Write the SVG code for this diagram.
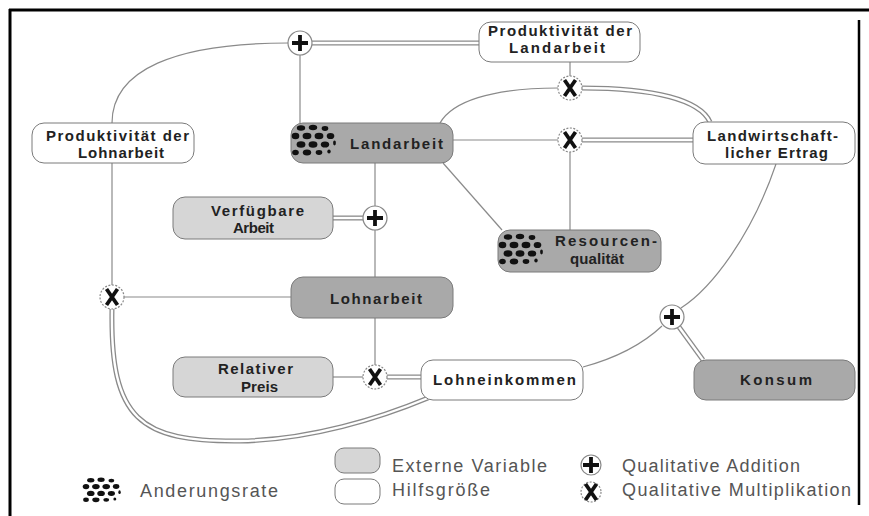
<svg xmlns="http://www.w3.org/2000/svg" xmlns:xlink="http://www.w3.org/1999/xlink" width="869" height="516" viewBox="0 0 869 516">
<style>
.box{stroke:#7a7a7a;stroke-width:1}
.ext{fill:#a9a9a9}
.inp{fill:#d6d6d6}
.aux{fill:#ffffff}
.lbl{font-family:"Liberation Sans",Arial,sans-serif;font-weight:bold;font-size:15px;fill:#222}
.leg{font-family:"Liberation Sans",Arial,sans-serif;font-size:18px;fill:#555}
.conn{fill:none;stroke:#8a8a8a;stroke-width:1.2}
.dblo{fill:none;stroke:#8a8a8a;stroke-width:5}
.dbli{fill:none;stroke:#ffffff;stroke-width:2.4}
.op{fill:#fff;stroke:#888;stroke-width:1.2}
.opx{fill:#fff;stroke:#888;stroke-width:1.2;stroke-dasharray:2 1.5}
.sym{stroke:#111;stroke-width:3.8;stroke-linecap:butt;fill:none}
.frame{stroke:#000;fill:none}
</style>
<defs>
<g id="dots" fill="#111">
<ellipse cx="9" cy="4" rx="4.2" ry="2.8"/><ellipse cx="21" cy="3.5" rx="4.2" ry="2.8"/><ellipse cx="33" cy="4.5" rx="3.3" ry="2.4"/>
<ellipse cx="3.5" cy="12" rx="3.8" ry="3.3"/><ellipse cx="15" cy="12" rx="4.4" ry="3.3"/><ellipse cx="27" cy="12" rx="4.4" ry="3.3"/><ellipse cx="38.5" cy="12" rx="3.8" ry="3.1"/>
<ellipse cx="9" cy="20.5" rx="4.4" ry="3.3"/><ellipse cx="21" cy="20.5" rx="4.4" ry="3.3"/><ellipse cx="33" cy="20.5" rx="4.2" ry="3.1"/><ellipse cx="42.5" cy="19" rx="1.4" ry="2.4"/>
<ellipse cx="3.5" cy="28.5" rx="3.3" ry="2.8"/><ellipse cx="15" cy="28.5" rx="4.2" ry="3"/><ellipse cx="27" cy="28.5" rx="3.3" ry="2.4"/><ellipse cx="37" cy="27.5" rx="1.7" ry="1.9"/>
</g>
<g id="plus"><path class="sym" d="M-8,0 H8 M0,-8 V8"/></g>
<g id="times"><path class="sym" d="M-5.5,-8 L5.5,8 M5.5,-8 L-5.5,8"/></g>
</defs>
<rect width="869" height="516" fill="#fff"/>
<g id="frame">
<path class="frame" stroke-width="3" d="M9,10 H869"/>
<path class="frame" stroke-width="3" d="M10,9 V516"/>
<path class="frame" stroke-width="2.5" d="M859,20 V505"/>
</g>
<g id="connectors">
<path class="conn" d="M288,43 C 175,43 112,70 112,123"/>
<path class="conn" d="M300,55 V123"/>
<path class="conn" d="M570,62 V76"/>
<path class="conn" d="M558,88 C 490,88 452,102 440,123"/>
<path class="conn" d="M453,140 H558"/>
<path class="conn" d="M570,152 V230"/>
<path class="conn" d="M443,163 L502,230"/>
<path class="conn" d="M375,163 V277"/>
<path class="conn" d="M375,318 V365"/>
<path class="conn" d="M124,297 H291"/>
<path class="conn" d="M112,163 V285"/>
<path class="conn" d="M333,377 H363"/>
<path class="conn" d="M583,367 C 620,357 645,342 662,326"/>
<path class="conn" d="M681,308 C 712,288 752,235 776,164"/>
<path class="dblo" d="M312,43 H479"/><path class="dbli" d="M312,43 H479"/>
<path class="dblo" d="M582,88 C 655,88 700,100 710,122"/><path class="dbli" d="M582,88 C 655,88 700,100 710,122"/>
<path class="dblo" d="M582,140 H693"/><path class="dbli" d="M582,140 H693"/>
<path class="dblo" d="M333,218 H363"/><path class="dbli" d="M333,218 H363"/>
<path class="dblo" d="M112,309 C 110,420 140,442 240,441 C 310,440 380,418 428,398"/><path class="dbli" d="M112,309 C 110,420 140,442 240,441 C 310,440 380,418 428,398"/>
<path class="dblo" d="M387,377 H421"/><path class="dbli" d="M387,377 H421"/>
<path class="dblo" d="M703,360 L679,327"/><path class="dbli" d="M703,360 L679,327"/>
</g>
<g id="n-prod-land">
<rect class="box aux" x="479" y="22" width="161" height="40" rx="12"/>
<text class="lbl" x="488" y="36" textLength="144" lengthAdjust="spacing">Produktivität der</text>
<text class="lbl" x="509" y="53" textLength="96" lengthAdjust="spacing">Landarbeit</text>
</g>
<g id="n-prod-lohn">
<rect class="box aux" x="32" y="123" width="162" height="40" rx="12"/>
<text class="lbl" x="46" y="141" textLength="143" lengthAdjust="spacing">Produktivität der</text>
<text class="lbl" x="78" y="158" textLength="86" lengthAdjust="spacing">Lohnarbeit</text>
</g>
<g id="n-landarbeit">
<rect class="box ext" x="291" y="123" width="162" height="40" rx="12"/>
<use xlink:href="#dots" href="#dots" x="292" y="124"/>
<text class="lbl" x="350" y="149" textLength="93" lengthAdjust="spacing">Landarbeit</text>
</g>
<g id="n-ertrag">
<rect class="box aux" x="693" y="122" width="162" height="42" rx="12"/>
<text class="lbl" x="707" y="141" textLength="131" lengthAdjust="spacing">Landwirtschaft-</text>
<text class="lbl" x="725" y="158" textLength="103" lengthAdjust="spacing">licher Ertrag</text>
</g>
<g id="n-verfuegbar">
<rect class="box inp" x="173" y="197" width="160" height="42" rx="12"/>
<text class="lbl" x="211" y="216" textLength="93" lengthAdjust="spacing">Verfügbare</text>
<text class="lbl" x="233" y="233" textLength="41" lengthAdjust="spacing">Arbeit</text>
</g>
<g id="n-resourcen">
<rect class="box ext" x="498" y="230" width="163" height="42" rx="12"/>
<use xlink:href="#dots" href="#dots" x="499" y="233"/>
<text class="lbl" x="555" y="246" textLength="102" lengthAdjust="spacing">Resourcen-</text>
<text class="lbl" x="570" y="264" textLength="54" lengthAdjust="spacing">qualität</text>
</g>
<g id="n-lohnarbeit">
<rect class="box ext" x="291" y="277" width="162" height="41" rx="12"/>
<text class="lbl" x="330" y="304" textLength="92" lengthAdjust="spacing">Lohnarbeit</text>
</g>
<g id="n-relpreis">
<rect class="box inp" x="173" y="357" width="160" height="40" rx="12"/>
<text class="lbl" x="218" y="374" textLength="75" lengthAdjust="spacing">Relativer</text>
<text class="lbl" x="241" y="392" textLength="37" lengthAdjust="spacing">Preis</text>
</g>
<g id="n-lohneinkommen">
<rect class="box aux" x="421" y="360" width="162" height="40" rx="12"/>
<text class="lbl" x="433" y="385" textLength="143" lengthAdjust="spacing">Lohneinkommen</text>
</g>
<g id="n-konsum">
<rect class="box ext" x="694" y="360" width="161" height="40" rx="12"/>
<text class="lbl" x="740" y="385" textLength="72" lengthAdjust="spacing">Konsum</text>
</g>
<g id="op-plus-top"><circle class="op" cx="300" cy="43" r="12"/><use xlink:href="#plus" href="#plus" x="300" y="43"/></g>
<g id="op-x-top"><circle class="opx" cx="570" cy="88" r="12"/><use xlink:href="#times" href="#times" x="570" y="88"/></g>
<g id="op-x-mid"><circle class="opx" cx="570" cy="140" r="12"/><use xlink:href="#times" href="#times" x="570" y="140"/></g>
<g id="op-plus-arbeit"><circle class="op" cx="375" cy="218" r="12"/><use xlink:href="#plus" href="#plus" x="375" y="218"/></g>
<g id="op-x-left"><circle class="opx" cx="112" cy="297" r="12"/><use xlink:href="#times" href="#times" x="112" y="297"/></g>
<g id="op-x-preis"><circle class="opx" cx="375" cy="377" r="12"/><use xlink:href="#times" href="#times" x="375" y="377"/></g>
<g id="op-plus-right"><circle class="op" cx="672" cy="317" r="12"/><use xlink:href="#plus" href="#plus" x="672" y="317"/></g>
<g id="legend">
<use xlink:href="#dots" href="#dots" transform="translate(83,477) scale(0.86,0.8)"/>
<text class="leg" x="140" y="497" textLength="138" lengthAdjust="spacing">Anderungsrate</text>
<rect class="box inp" x="335" y="448" width="45" height="25" rx="9"/>
<rect class="box aux" x="335" y="479" width="45" height="25" rx="9"/>
<text class="leg" x="392" y="472" textLength="155" lengthAdjust="spacing">Externe Variable</text>
<text class="leg" x="392" y="496" textLength="98" lengthAdjust="spacing">Hilfsgröße</text>
<circle class="op" cx="591" cy="465" r="10"/><use xlink:href="#plus" href="#plus" x="591" y="465"/>
<circle class="opx" cx="591" cy="492" r="10"/><use xlink:href="#times" href="#times" x="591" y="492"/>
<text class="leg" x="622" y="472" textLength="178" lengthAdjust="spacing">Qualitative Addition</text>
<text class="leg" x="622" y="496" textLength="229" lengthAdjust="spacing">Qualitative Multiplikation</text>
</g>
</svg>
